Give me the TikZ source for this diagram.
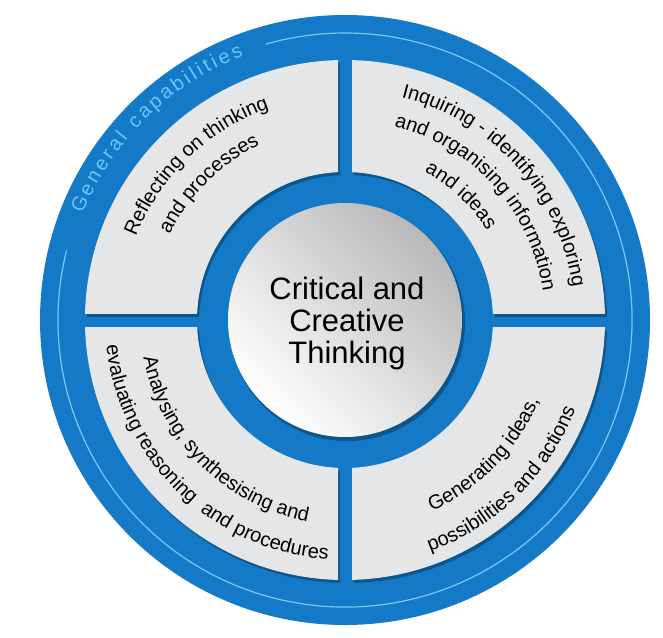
\documentclass[tikz,border=0pt]{standalone}
\usepackage{fontspec}
\setmainfont{Liberation Sans}
\usetikzlibrary{decorations.text}
\definecolor{ringblue}{RGB}{20,122,199}
\definecolor{lineblue}{RGB}{125,200,245}
\definecolor{capblue}{RGB}{105,200,248}
\definecolor{panelgrey}{RGB}{229,230,232}

\begin{document}
\begin{tikzpicture}[x=1pt,y=1pt,
    panel/.style={fill=panelgrey,even odd rule},
    dropshadow/.style={fill=black,opacity=0.3,even odd rule},
    arclabel/.style={decorate,decoration={text along path,text align=center,
        text={|\fontsize{20}{24}\selectfont|#1}}}
]
\useasboundingbox (-345,-317) rectangle (318,320);
% outer ring
\fill[ringblue] (0,0) circle (305);
\draw[lineblue,line width=1.2pt] (166:287) arc (166:466:287);
\path[decorate,decoration={text along path,text align=fit to path,text color=capblue,
    text={|\fontsize{20}{24}\selectfont|General capabilities}}] (158:283) arc (158:111:283);
% four panels
\foreach \sx/\sy in {1/1,-1/1,-1/-1,1/-1}{
    \begin{scope}[shift={(2,-3)}]
        \clip (7*\sx,7*\sy) rectangle (270*\sx,270*\sy);
        \fill[dropshadow] (0,0) circle (260) circle (148);
    \end{scope}
    \begin{scope}
        \clip (7*\sx,7*\sy) rectangle (270*\sx,270*\sy);
        \fill[panel] (0,0) circle (260) circle (148);
    \end{scope}
}
% centre
\fill[dropshadow] (2,-3) circle (118);
\shade[top color=gray!55,bottom color=white,shading angle=-45] (0,0) circle (117);
\node[font=\fontsize{31}{32}\selectfont,align=center] (core) at (2,-3) {Critical and\\Creative\\Thinking};
% panel texts
\path[arclabel={Reflecting on thinking}] (184:225) arc (184:84:225);
\path[arclabel={and processes}] (185:195) arc (185:85:195);
\path[arclabel={Inquiring - identifying exploring}] (92:230) arc (92:-8:230);
\path[arclabel={and organising information}] (92:200) arc (92:-8:200);
\path[arclabel={and ideas}] (97:168) arc (97:-3:168);
\path[arclabel={Analysing, synthesising and}] (175:205) arc (175:275:205);
\path[arclabel={evaluating reasoning {\ }and procedures}] (176:240) arc (176:276:240);
\path[arclabel={Generating ideas,}] (266:210) arc (266:366:210);
\path[arclabel={possibilities and actions}] (264.5:247) arc (264.5:364.5:247);
\end{tikzpicture}
\end{document}
